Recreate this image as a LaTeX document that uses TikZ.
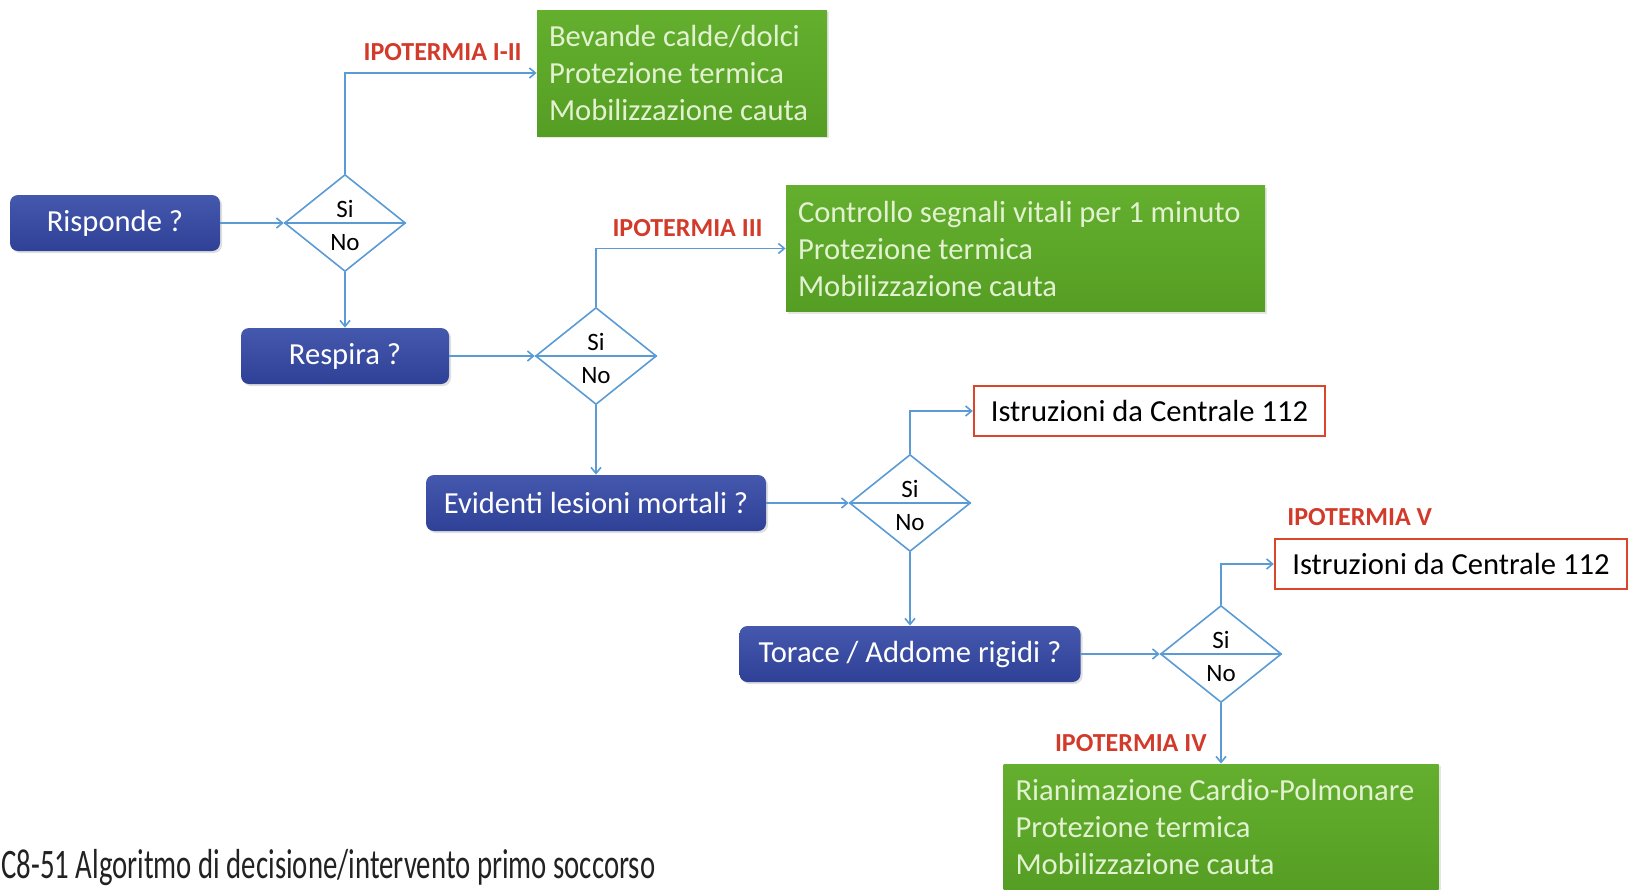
\documentclass[tikz,border=0pt]{standalone}
\usepackage{fontspec}
\setmainfont{Carlito}
\usepackage{xcolor}
\usepackage{graphicx}
\usepackage{tikz}
\usetikzlibrary{shapes.geometric,arrows.meta,positioning,calc,shadows}
\definecolor{ipblusu}{HTML}{4458AE}
\definecolor{ipblugiu}{HTML}{2F4196}
\definecolor{ipverdesu}{HTML}{64AF2E}
\definecolor{ipverdegiu}{HTML}{559E24}
\definecolor{iptestov}{HTML}{E2F2D0}
\definecolor{iprosso}{HTML}{D9462B}
\definecolor{ipetich}{HTML}{D23A2A}
\definecolor{ipfreccia}{HTML}{5B9BD5}
\definecolor{ipscuro}{HTML}{222222}

\begin{document}
\begin{tikzpicture}[x=0.5pt,y=-0.5pt,
  testo/.style={font=\fontsize{15.3}{18.5}\selectfont},
  domanda/.style={testo,rounded corners=4pt,top color=ipblusu,bottom color=ipblugiu,text=white,minimum height=28pt,inner sep=0pt,drop shadow={opacity=0.25,shadow xshift=1pt,shadow yshift=-1pt}},
  azione/.style={testo,top color=ipverdesu,bottom color=ipverdegiu,text=iptestov,align=left,minimum height=63pt,inner xsep=6pt,execute at begin node={\spaceskip=0pt\xspaceskip=0pt},drop shadow={opacity=0.2,shadow xshift=1pt,shadow yshift=-1pt}},
  chiamata/.style={testo,draw=iprosso,line width=1.2pt,fill=white,text=black,minimum height=25pt,inner sep=0pt},
  scelta/.style={diamond,draw=ipfreccia,line width=0.8pt,minimum width=60.5pt,minimum height=48.5pt,inner sep=0pt},
  sino/.style={font=\fontsize{12.5}{14}\selectfont,inner sep=0pt},
  grado/.style={text=ipetich,font=\bfseries\fontsize{13}{15}\selectfont,inner sep=0pt},
  freccia/.style={draw=ipfreccia,line width=0.8pt,-{Straight Barb[length=3pt,width=5pt]}}]
  \useasboundingbox (0,0) rectangle (1628,889);

  % domande
  \node[domanda,minimum width=105pt] (risp) at (115,223) {Risponde ?};
  \node[domanda,minimum width=104pt] (resp) at (345,356) {Respira ?};
  \node[domanda,minimum width=170pt] (evid) at (596,503) {Evidenti lesioni mortali ?};
  \node[domanda,minimum width=170.5pt] (tora) at (910,654) {Torace / Addome rigidi ?};

  % scelte
  \node[scelta] (s1) at (345,223) {};
  \node[scelta] (s2) at (596,356) {};
  \node[scelta] (s3) at (910,503) {};
  \node[scelta] (s4) at (1221,654) {};
  \foreach \s in {s1,s2,s3,s4} {
    \draw[ipfreccia,line width=0.8pt] (\s.west) -- (\s.east);
    \node[sino] (\s-si) at ([yshift=7pt]\s.center) {Si};
    \node[sino] (\s-no) at ([yshift=-10pt]\s.center) {No};
  }

  % interventi
  \node[azione,text width=133pt] (az1) at (682,73) {Bevande calde/dolci\\Protezione termica\\Mobilizzazione cauta};
  \node[azione,text width=227.5pt] (az2) at (1025.5,248.5) {Controllo segnali vitali per 1 minuto\\Protezione termica\\Mobilizzazione cauta};
  \node[azione,text width=205.5pt] (az3) at (1221,827) {Rianimazione Cardio-Polmonare\\Protezione termica\\Mobilizzazione cauta};
  \node[chiamata,minimum width=175.5pt] (ch1) at (1149.5,411) {Istruzioni da Centrale 112};
  \node[chiamata,minimum width=176pt] (ch2) at (1451,564) {Istruzioni da Centrale 112};

  % gradi
  \node[grado,anchor=east] (g12) at (522,52) {IPOTERMIA I-II};
  \node[grado,anchor=east] (g3) at (763,228) {IPOTERMIA III};
  \node[grado,anchor=east] (g4) at (1207,743) {IPOTERMIA IV};
  \node[grado,anchor=west] (g5) at (1287,517) {IPOTERMIA V};

  % frecce
  \draw[freccia] (risp) -- (s1.west);
  \draw[freccia] (s1.north) |- (az1.west);
  \draw[freccia] (s1.south) -- (resp.north);
  \draw[freccia] (resp) -- (s2.west);
  \draw[freccia] (s2.north) |- (az2.west);
  \draw[freccia] (s2.south) -- (evid.north);
  \draw[freccia] (evid) -- (s3.west);
  \draw[freccia] (s3.north) |- (ch1.west);
  \draw[freccia] (s3.south) -- (tora.north);
  \draw[freccia] (tora) -- (s4.west);
  \draw[freccia] (s4.north) |- (ch2.west);
  \draw[freccia] (s4.south) -- (az3.north);

  \node[anchor=base west,inner sep=0pt,text=ipscuro] (didas) at (1,878) {\resizebox{327pt}{\height}{\fontsize{21}{25}\selectfont C8-51 Algoritmo di decisione/intervento primo soccorso}};
\end{tikzpicture}
\end{document}
